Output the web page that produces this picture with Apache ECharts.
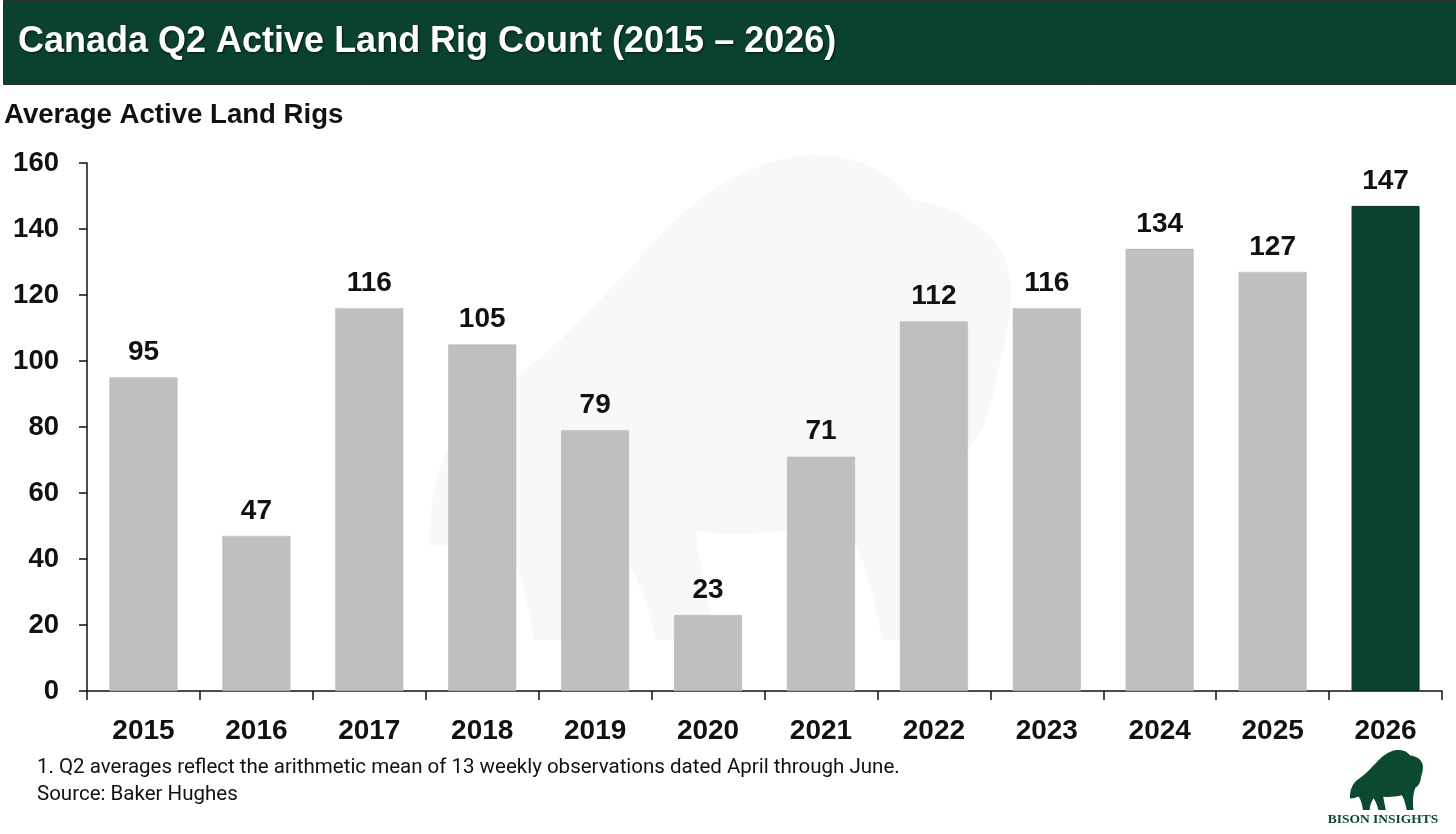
<!DOCTYPE html>
<html>
<head>
<meta charset="utf-8">
<script src="https://cdn.jsdelivr.net/npm/echarts@6/dist/echarts.min.js"></script>
<style>
html,body{margin:0;padding:0;background:#fff;}
#c{width:1456px;height:834px;}
</style>
</head>
<body>
<div id="c"></div>
<script>
const categories = ['2015','2016','2017','2018','2019','2020','2021','2022','2023','2024','2025','2026'];
const rigCounts = [95, 47, 116, 105, 79, 23, 71, 112, 116, 134, 127, 147];
const yTicks = [0, 20, 40, 60, 80, 100, 120, 140, 160];
const titleText = 'Canada Q2 Active Land Rig Count (2015 – 2026)';
const subtitleText = 'Average Active Land Rigs';
const footnotes = ['1. Q2 averages reflect the arithmetic mean of 13 weekly observations dated April through June.', 'Source: Baker Hughes'];
const brandText = 'BISON INSIGHTS';

const GREEN = '#0a4130';
const GREY = '#bfbfbf';

// rough bison silhouette (decoration for watermark and logo), local units 600 x 485
const bisonPath = 'M 0,390 C -2,325 20,265 70,235 C 130,195 190,125 250,65 C 300,20 350,0 390,0 C 440,0 470,20 490,45 C 530,50 570,70 585,105 C 600,145 585,185 575,225 C 570,265 555,295 530,305 C 515,345 505,405 515,485 L 460,485 C 450,435 440,395 420,365 C 370,375 310,385 270,375 C 275,415 285,455 290,485 L 230,485 C 220,445 210,415 190,390 C 170,425 160,455 160,485 L 105,485 C 100,445 90,405 70,375 C 40,385 15,395 0,390 Z';

let haveBison = false;
try {
  const Bison = echarts.graphic.extendPath(bisonPath, {});
  echarts.graphic.registerShape('bison', Bison);
  haveBison = true;
} catch (e) { haveBison = false; }

const chart = echarts.init(document.getElementById('c'));
const barData = rigCounts.map((v, i) => ({
  value: v,
  itemStyle: i === rigCounts.length - 1 ? {color: GREEN, borderColor: '#06301f', borderWidth: 1} : {color: GREY, borderColor: '#b5b5b5', borderWidth: 0.5}
}));

const graphics = [];
if (haveBison) {
  graphics.push({type: 'bison', x: 430, y: 155, scaleX: 590 / 600, scaleY: 1, z: -10, silent: true, style: {fill: '#f8f8f8'}});
  graphics.push({type: 'bison', x: 1350, y: 750, scaleX: 74 / 600, scaleY: 60 / 485, silent: true, style: {fill: '#0b4a30'}});
}
graphics.push(
  {type: 'rect', left: 3, top: 0, shape: {width: 1453, height: 84}, style: {fill: GREEN, stroke: '#2a2a2a', lineWidth: 1}},
  {type: 'text', x: 18, y: 42, style: {text: titleText, fill: '#fff', font: 'bold 36px "Liberation Sans"', textVerticalAlign: 'middle', textShadowColor: 'rgba(0,0,0,0.6)', textShadowBlur: 2, textShadowOffsetX: 1, textShadowOffsetY: 1}},
  {type: 'text', x: 4, y: 115, style: {text: subtitleText, fill: '#111', font: 'bold 27.6px "Liberation Sans"', textVerticalAlign: 'middle'}},
  {type: 'text', x: 37, y: 768, style: {text: footnotes[0], fill: '#111', font: '20.5px Roboto', textVerticalAlign: 'middle'}},
  {type: 'text', x: 37, y: 795, style: {text: footnotes[1], fill: '#111', font: '20.5px Roboto', textVerticalAlign: 'middle'}},
  {type: 'text', x: 1383, y: 820, style: {text: brandText, fill: '#0b4a30', font: 'bold 13.5px "Liberation Serif"', textAlign: 'center', textVerticalAlign: 'middle'}}
);

chart.setOption({
  animation: false,
  grid: {left: 87, right: 14, top: 163, bottom: 143, containLabel: false},
  graphic: graphics,
  xAxis: {
    type: 'category',
    data: categories,
    axisLine: {lineStyle: {color: '#111', width: 1.5}},
    axisTick: {show: true, length: 9, lineStyle: {color: '#111', width: 1.5}},
    axisLabel: {color: '#111', fontFamily: 'Liberation Sans', fontWeight: 'bold', fontSize: 28, margin: 26}
  },
  yAxis: {
    type: 'value',
    min: 0, max: 160, interval: 20,
    splitLine: {show: false},
    axisLine: {show: true, lineStyle: {color: '#111', width: 1.5}},
    axisTick: {show: true, length: 8, lineStyle: {color: '#111', width: 1.5}},
    axisLabel: {color: '#111', fontFamily: 'Liberation Sans', fontWeight: 'bold', fontSize: 27.5, margin: 28,
      formatter: v => yTicks.includes(v) ? String(v) : ''}
  },
  series: [{
    type: 'bar',
    data: barData,
    barWidth: 68,
    label: {show: true, position: 'top', distance: 11, color: '#111', fontFamily: 'Liberation Sans', fontWeight: 'bold', fontSize: 28}
  }]
});
</script>
</body>
</html>
